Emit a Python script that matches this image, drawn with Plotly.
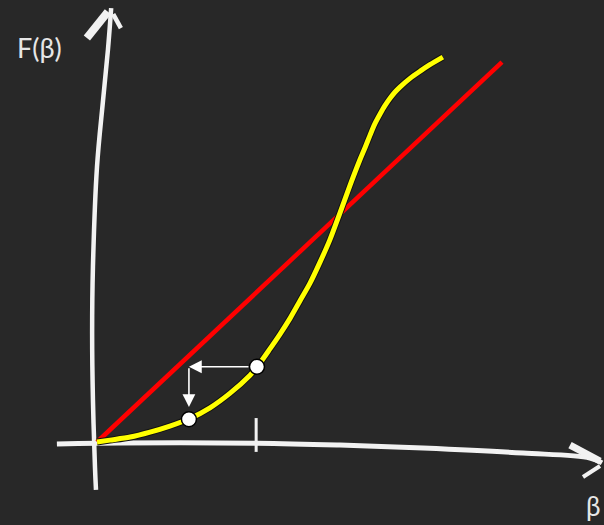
import plotly.graph_objects as go

# Fixed-point iteration sketch: F(beta) against the line F = beta
line_beta = [0.0, 1.0]
line_F = [0.0, 1.0]

curve_beta = [0.000, 0.032, 0.082, 0.131, 0.180, 0.230, 0.279, 0.328, 0.378, 0.395,
              0.427, 0.452, 0.477, 0.501, 0.526, 0.551, 0.575, 0.600, 0.625, 0.649,
              0.662, 0.674, 0.686, 0.699, 0.711, 0.724, 0.736, 0.748, 0.773, 0.798,
              0.822, 0.854]
curve_F = [0.000, 0.005, 0.013, 0.026, 0.042, 0.062, 0.090, 0.128, 0.176, 0.197,
           0.245, 0.284, 0.326, 0.371, 0.418, 0.474, 0.532, 0.603, 0.676, 0.742,
           0.775, 0.807, 0.837, 0.863, 0.885, 0.905, 0.921, 0.934, 0.957, 0.976,
           0.993, 1.013]

# iterate points on the curve
iter_beta = [0.395, 0.227]
iter_F = [0.198, 0.060]
arrow_tip_F = 0.092

# hand-drawn chalk axes
yaxis_beta = [-0.0025, -0.005, -0.010, -0.012, -0.010, 0.0, 0.015, 0.027, 0.035]
yaxis_F = [-0.126, -0.066, 0.111, 0.287, 0.461, 0.724, 0.900, 1.032, 1.142]
ybarb_left = ([-0.025, 0.027], [1.063, 1.132])
ybarb_right = ([0.040, 0.059], [1.126, 1.089])

xaxis_beta = [-0.099, 0.0, 0.395, 0.600, 0.805, 1.052, 1.217, 1.247]
xaxis_F = [-0.005, -0.003, -0.003, -0.008, -0.016, -0.029, -0.042, -0.055]
xbarb_upper = ([1.168, 1.242], [-0.008, -0.050])
xbarb_lower = ([1.200, 1.242], [-0.092, -0.063])

tick_beta = 0.393
tick_F = [0.063, -0.026]

BG = "#282828"
CHALK = "#f2f2f2"

fig = go.Figure()


def chalk(xs, ys, width):
    fig.add_trace(go.Scatter(x=xs, y=ys, mode="lines", line=dict(color=CHALK, width=width, shape="spline"),
                             hoverinfo="skip", showlegend=False))


chalk(yaxis_beta, yaxis_F, 4.5)
chalk(*ybarb_left, 8)
chalk(*ybarb_right, 4.5)
chalk(xaxis_beta, xaxis_F, 5)
chalk(*xbarb_upper, 7)
chalk(*xbarb_lower, 4)
chalk([tick_beta, tick_beta], tick_F, 3)

# identity line
fig.add_trace(go.Scatter(x=line_beta, y=line_F, mode="lines",
                         line=dict(color="#ff0000", width=4.5), hoverinfo="skip", showlegend=False))

# F(beta): dark outline under the yellow stroke
fig.add_trace(go.Scatter(x=curve_beta, y=curve_F, mode="lines",
                         line=dict(color="#111111", width=7, shape="spline", smoothing=0.8),
                         hoverinfo="skip", showlegend=False))
fig.add_trace(go.Scatter(x=curve_beta, y=curve_F, mode="lines",
                         line=dict(color="#ffff00", width=5, shape="spline", smoothing=0.8),
                         hoverinfo="skip", showlegend=False))

# iteration arrows
fig.add_annotation(x=iter_beta[1], y=iter_F[0], ax=iter_beta[0], ay=iter_F[0],
                   xref="x", yref="y", axref="x", ayref="y", text="", showarrow=True,
                   arrowhead=2, arrowsize=1.6, arrowwidth=1.6, arrowcolor="white", startstandoff=7)
fig.add_annotation(x=iter_beta[1], y=arrow_tip_F, ax=iter_beta[1], ay=iter_F[0],
                   xref="x", yref="y", axref="x", ayref="y", text="", showarrow=True,
                   arrowhead=2, arrowsize=1.6, arrowwidth=1.6, arrowcolor="white")

fig.add_trace(go.Scatter(x=iter_beta, y=iter_F, mode="markers",
                         marker=dict(size=15, color="white", line=dict(color="black", width=1.5)),
                         hoverinfo="skip", showlegend=False))

fig.add_annotation(x=-0.141, y=1.037, xref="x", yref="y", text="F(β)", showarrow=False,
                   font=dict(family="Lato", size=27, color="#e6e6e6"))
fig.add_annotation(x=1.227, y=-0.168, xref="x", yref="y", text="β", showarrow=False,
                   font=dict(family="Lato", size=26, color="#e6e6e6"))

fig.update_layout(
    width=604, height=525,
    margin=dict(l=0, r=0, t=0, b=0),
    paper_bgcolor=BG, plot_bgcolor=BG,
    xaxis=dict(range=[-0.2395, 1.2519], visible=False, fixedrange=True),
    yaxis=dict(range=[-0.2184, 1.1632], visible=False, fixedrange=True),
    showlegend=False,
)

fig.write_html("out.html")
